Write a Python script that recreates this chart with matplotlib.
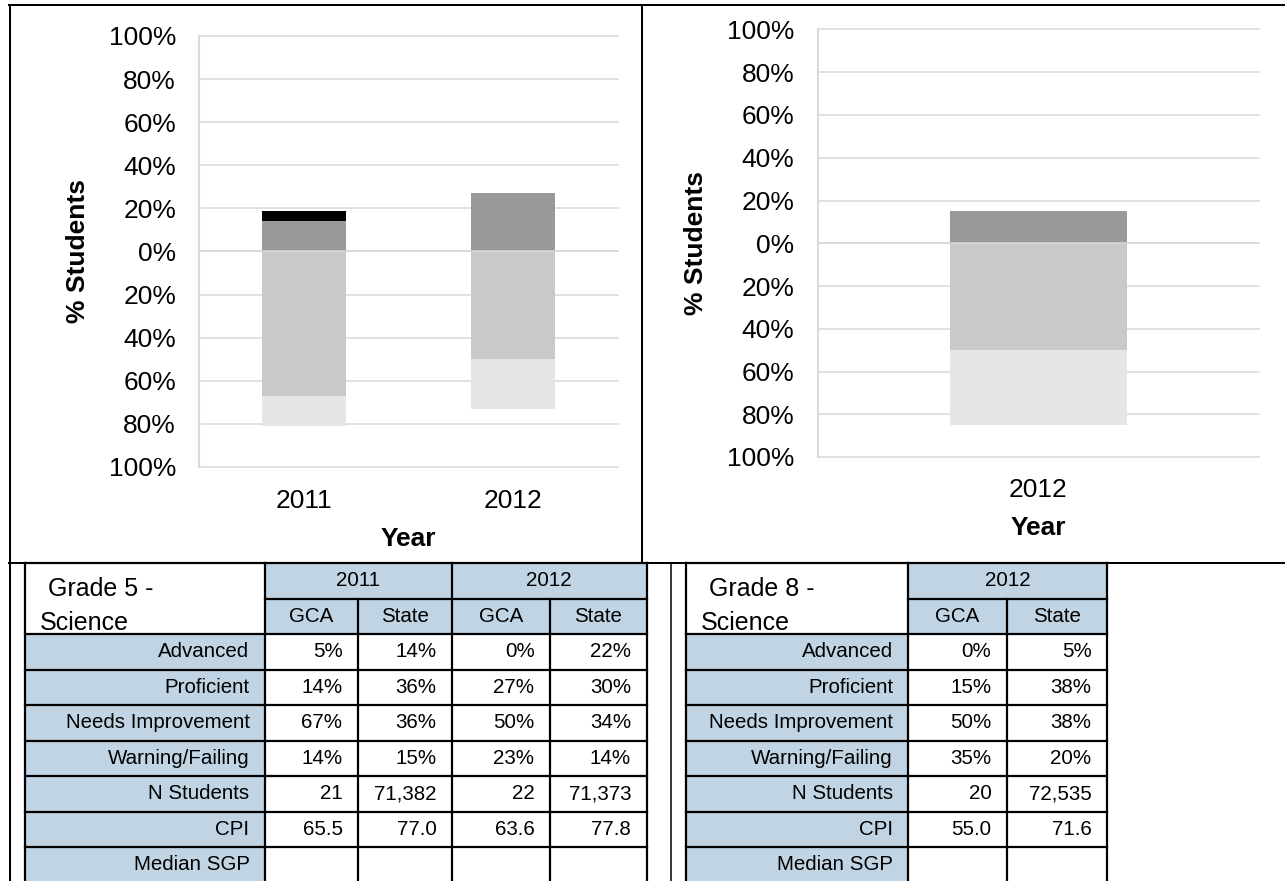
import matplotlib
matplotlib.use("Agg")
import numpy as np
import matplotlib.pyplot as plt
from matplotlib.patches import Rectangle

plt.rcParams['font.family'] = ['Liberation Sans', 'DejaVu Sans']

# ---------------- data ----------------
g5_years = ["2011", "2012"]
g5_advanced = [5, 0]
g5_proficient = [14, 27]
g5_needs_impr = [67, 50]
g5_warning = [14, 23]

g8_years = ["2012"]
g8_advanced = [0]
g8_proficient = [15]
g8_needs_impr = [50]
g8_warning = [35]

y_ticks = [-100, -80, -60, -40, -20, 0, 20, 40, 60, 80, 100]

row_labels = ["Advanced", "Proficient", "Needs Improvement", "Warning/Failing",
              "N Students", "CPI", "Median SGP"]

g5_title = ["Grade 5 -", "Science"]
g5_table_years = ["2011", "2012"]
g5_table_cols = ["GCA", "State", "GCA", "State"]
g5_table_values = [
    ["5%", "14%", "0%", "22%"],
    ["14%", "36%", "27%", "30%"],
    ["67%", "36%", "50%", "34%"],
    ["14%", "15%", "23%", "14%"],
    ["21", "71,382", "22", "71,373"],
    ["65.5", "77.0", "63.6", "77.8"],
    ["", "", "", ""],
]

g8_title = ["Grade 8 -", "Science"]
g8_table_years = ["2012"]
g8_table_cols = ["GCA", "State"]
g8_table_values = [
    ["0%", "5%"],
    ["15%", "38%"],
    ["50%", "38%"],
    ["35%", "20%"],
    ["20", "72,535"],
    ["55.0", "71.6"],
    ["", ""],
]

# ---------------- layout ----------------
W, H = 1285, 881
fig = plt.figure(figsize=(W / 100, H / 100), dpi=100)


def px_axes(x0, y0, x1, y1, **kw):
    return fig.add_axes([x0 / W, 1 - y1 / H, (x1 - x0) / W, (y1 - y0) / H], **kw)


C_ADV, C_PROF, C_NI, C_WF = "#000000", "#999999", "#c9c9c9", "#e6e6e6"
GRID = "#d9d9d9"


def draw_chart(ax, years, adv, prof, ni, wf, ypad, xpad, xlab_y, ylab_x):
    x = np.arange(len(years))
    neg_ni = [-v for v in ni]
    neg_wf = [-v for v in wf]
    ax.bar(x, prof, 0.4, color=C_PROF, zorder=2)
    ax.bar(x, adv, 0.4, bottom=prof, color=C_ADV, zorder=2)
    ax.bar(x, neg_ni, 0.4, color=C_NI, zorder=2)
    ax.bar(x, neg_wf, 0.4, bottom=neg_ni, color=C_WF, zorder=2)
    ax.set_xlim(-0.5, len(years) - 0.5)
    ax.set_ylim(-100, 100)
    ax.set_yticks(y_ticks, [f"{abs(t)}%" for t in y_ticks])
    ax.set_xticks(x, years)
    ax.tick_params(length=0, labelsize=19, colors="black")
    ax.tick_params(axis="y", pad=ypad)
    ax.tick_params(axis="x", pad=xpad)
    for s in ["top", "right", "bottom"]:
        ax.spines[s].set_visible(False)
    ax.spines["left"].set_color(GRID)
    ax.spines["left"].set_linewidth(1.5)
    ax.yaxis.grid(True, color=GRID, linewidth=1.1)
    ax.set_axisbelow(True)
    for gl in ax.get_ygridlines():
        gl.set_clip_on(False)
    ax.axhline(0, color=GRID, linewidth=1.1, zorder=3)
    ax.set_xlabel("Year", fontsize=19, fontweight="bold")
    ax.xaxis.set_label_coords(0.5, xlab_y)
    ax.set_ylabel("% Students", fontsize=19, fontweight="bold", va="center")
    ax.yaxis.set_label_coords(ylab_x, 0.5)


ax1 = px_axes(199, 36, 618, 467)
draw_chart(ax1, g5_years, g5_advanced, g5_proficient, g5_needs_impr, g5_warning,
           ypad=16.5, xpad=15.5, xlab_y=-0.140, ylab_x=-0.2895)

ax2 = px_axes(818, 29.5, 1259, 457)
draw_chart(ax2, g8_years, g8_advanced, g8_proficient, g8_needs_impr, g8_warning,
           ypad=17, xpad=14.8, xlab_y=-0.137, ylab_x=-0.2773)

# ---------------- overlay for frame and tables (pixel coordinates) ----------------
ov = fig.add_axes([0, 0, 1, 1], zorder=5)
ov.set_xlim(0, W)
ov.set_ylim(H, 0)
ov.axis("off")
ov.patch.set_visible(False)

FRAME_LW = 1.45


def hline(y, x0, x1, lw=FRAME_LW):
    ov.plot([x0, x1], [y, y], color="black", lw=lw, solid_capstyle="projecting")


def vline(x, y0, y1, lw=FRAME_LW):
    ov.plot([x, x], [y0, y1], color="black", lw=lw, solid_capstyle="projecting")


# document frame
hline(5, 9, W)
vline(9.5, 5, H)
vline(642, 5, 563)
hline(563, 9, W)
vline(671, 563, H, lw=1.1)

BLUE = "#c0d4e3"
TBL_LW = 1.6
y_edges = [563, 599, 634, 669.5, 705, 740.5, 776, 811.5, 847, 882.5]
BODY_FS = 14.8
TITLE_FS = 18


def draw_table(x_edges, years, cols, values, title):
    left, lab_r, right = x_edges[0], x_edges[1], x_edges[-1]
    ov.add_patch(Rectangle((lab_r, y_edges[0]), right - lab_r, y_edges[2] - y_edges[0],
                           facecolor=BLUE, edgecolor="none", zorder=1))
    ov.add_patch(Rectangle((left, y_edges[2]), lab_r - left, y_edges[-1] - y_edges[2],
                           facecolor=BLUE, edgecolor="none", zorder=1))
    # horizontal rules
    hline(y_edges[0], left, right, TBL_LW)
    hline(y_edges[1], lab_r, right, TBL_LW)
    for y in y_edges[2:]:
        hline(y, left, right, TBL_LW)
    # vertical rules
    for i, x in enumerate(x_edges):
        if i >= 2 and (i - 2) % 2 == 0 and i != len(x_edges) - 1:
            vline(x, y_edges[1], y_edges[-1], TBL_LW)
        else:
            vline(x, y_edges[0], y_edges[-1], TBL_LW)
    # title
    ov.text(left + 23, 589, title[0], fontsize=TITLE_FS, ha="left", va="center")
    ov.text(left + 15, 622.5, title[1], fontsize=TITLE_FS, ha="left", va="center")
    # year headers
    for j, yr in enumerate(years):
        xc = (x_edges[1 + 2 * j] + x_edges[3 + 2 * j]) / 2
        ov.text(xc, (y_edges[0] + y_edges[1]) / 2, yr, fontsize=BODY_FS,
                ha="center", va="center")
    # column headers
    for c, name in enumerate(cols):
        xc = (x_edges[1 + c] + x_edges[2 + c]) / 2
        ov.text(xc, (y_edges[1] + y_edges[2]) / 2, name, fontsize=BODY_FS,
                ha="center", va="center")
    # rows
    for r, lab in enumerate(row_labels):
        yc = (y_edges[2 + r] + y_edges[3 + r]) / 2
        ov.text(lab_r - 15, yc, lab, fontsize=BODY_FS, ha="right", va="center")
        for c, val in enumerate(values[r]):
            ov.text(x_edges[2 + c] - 15.5, yc, val, fontsize=BODY_FS,
                    ha="right", va="center")


draw_table([25, 264.5, 358, 452, 550, 646.5], g5_table_years, g5_table_cols,
           g5_table_values, g5_title)
draw_table([686, 908, 1007, 1107], g8_table_years, g8_table_cols,
           g8_table_values, g8_title)

fig.savefig("out.png", dpi=100)
